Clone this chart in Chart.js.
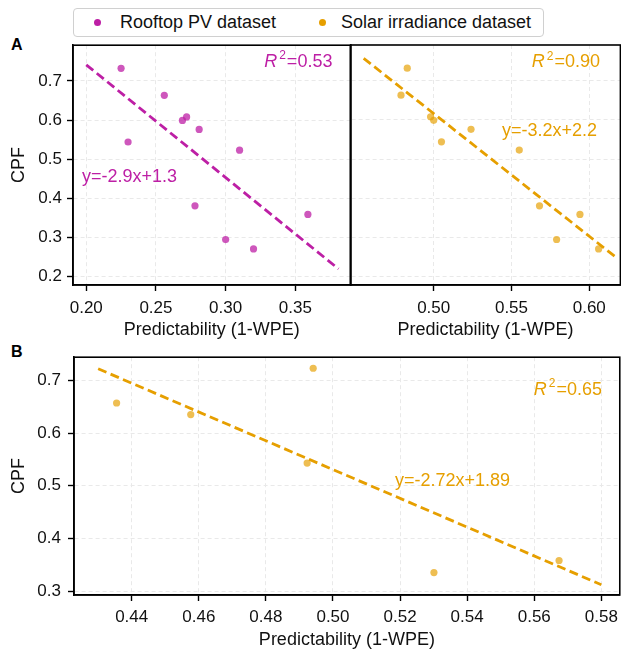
<!DOCTYPE html>
<html>
<head>
<meta charset="utf-8">
<script src="https://cdn.jsdelivr.net/npm/chart.js@4"></script>
<style>
  body { margin: 0; background: #fff; font-family: 'Liberation Sans', Arial, sans-serif; }
  #wrap { position: relative; width: 621px; height: 650px; overflow: hidden; }
  canvas { position: absolute; }
  .tag { position: absolute; font-weight: bold; font-size: 16px; color: #000; }
  #legend { position: absolute; left: 73px; top: 8px; width: 469px; height: 27px;
    border: 1px solid #d0d0d0; border-radius: 4px; font-size: 18px; color: #111; }
  .item { position: absolute; top: 3px; line-height: 21px; white-space: nowrap; }
  .dot { position: absolute; width: 7px; height: 7px; border-radius: 50%; top: 10px; }
</style>
</head>
<body>
<div id="wrap">
  <div id="legend">
    <div class="dot" style="left:20px;background:#bd1fa5"></div>
    <div class="item" style="left:46px">Rooftop PV dataset</div>
    <div class="dot" style="left:245px;background:#e69f00"></div>
    <div class="item" style="left:267px">Solar irradiance dataset</div>
  </div>
  <div class="tag" style="left:11px;top:36px">A</div>
  <div class="tag" style="left:11px;top:343px">B</div>
  <canvas id="chartA1" width="354" height="320" style="left:0;top:30px"></canvas>
  <canvas id="chartA2" width="277" height="320" style="left:347px;top:30px"></canvas>
  <canvas id="chartB" width="624" height="310" style="left:0;top:340px"></canvas>
</div>
<script>
// Panel A: CPF vs predictability (same CPF values for both datasets)
const cpfA = [0.732, 0.663, 0.608, 0.599, 0.576, 0.544, 0.523, 0.381, 0.359, 0.295, 0.271];
const rooftopX = [0.225, 0.256, 0.272, 0.269, 0.281, 0.230, 0.310, 0.278, 0.359, 0.300, 0.320];
const solarX = [0.483, 0.479, 0.498, 0.500, 0.524, 0.505, 0.555, 0.568, 0.594, 0.579, 0.606];

// regression line end points
const rooftopFitX = [0.200, 0.381];
const rooftopFitY = [0.741, 0.220];
const solarFitX = [0.455, 0.617];
const solarFitY = [0.757, 0.250];

// Panel B: solar irradiance only
const solarBX = [0.4355, 0.4576, 0.4941, 0.4923, 0.5301, 0.5674];
const cpfB = [0.657, 0.635, 0.723, 0.543, 0.335, 0.358];
const solarBFitX = [0.430, 0.580];
const solarBFitY = [0.722, 0.312];

// tick labels
const yTicksA = [0.2, 0.3, 0.4, 0.5, 0.6, 0.7];
const xTicksA1 = [0.20, 0.25, 0.30, 0.35];
const xTicksA2 = [0.50, 0.55, 0.60];
const yTicksB = [0.3, 0.4, 0.5, 0.6, 0.7];
const xTicksB = [0.44, 0.46, 0.48, 0.50, 0.52, 0.54, 0.56, 0.58];

const PURPLE = '#bd1fa5';
const ORANGE = '#e69f00';
const FONT = "'Liberation Sans', Arial, sans-serif";

const pts = (xs, ys) => xs.map((x, i) => ({ x: x, y: ys[i] }));

// box around the plot area
const frame = {
  id: 'frame',
  afterDraw(chart) {
    const a = chart.chartArea, ctx = chart.ctx;
    ctx.save();
    ctx.strokeStyle = '#000';
    ctx.lineWidth = 1.6;
    ctx.strokeRect(a.left, a.top, a.right - a.left, a.bottom - a.top);
    ctx.restore();
  }
};

// R^2 and equation text
const notes = {
  id: 'notes',
  afterDatasetsDraw(chart, args, opts) {
    const ctx = chart.ctx, xs = chart.scales.x, ys = chart.scales.y;
    const size = opts.size;
    ctx.save();
    ctx.fillStyle = opts.color;
    ctx.textBaseline = 'middle';
    (opts.items || []).forEach(n => {
      let px = xs.getPixelForValue(n.x);
      const py = ys.getPixelForValue(n.y);
      if (n.r2) {
        const f1 = 'italic ' + size + 'px ' + FONT, f2 = Math.round(size * 0.68) + 'px ' + FONT, f3 = size + 'px ' + FONT;
        ctx.font = f1; const w1 = ctx.measureText('R').width + 2;
        ctx.font = f2; const w2 = ctx.measureText('2').width + 1;
        ctx.font = f3; const w3 = ctx.measureText('=' + n.r2).width;
        px -= w1 + w2 + w3;
        ctx.textAlign = 'left';
        ctx.font = f1; ctx.fillText('R', px, py);
        ctx.font = f2; ctx.fillText('2', px + w1, py - size / 3);
        ctx.font = f3; ctx.fillText('=' + n.r2, px + w1 + w2, py);
      } else {
        ctx.font = size + 'px ' + FONT;
        ctx.textAlign = 'left';
        ctx.fillText(n.text, px, py);
      }
    });
    ctx.restore();
  }
};

function scatterSet(data, color) {
  return {
    type: 'scatter', data: data,
    backgroundColor: color === PURPLE ? 'rgba(189,31,165,0.75)' : 'rgba(230,159,0,0.68)',
    borderWidth: 0, pointRadius: 3.6, pointHoverRadius: 3.6
  };
}

function fitSet(data, color) {
  return {
    type: 'line', data: data, borderColor: color, borderWidth: 2.8,
    borderDash: [9, 4.5], pointRadius: 0, fill: false, showLine: true
  };
}

function axis(opts) {
  return {
    type: 'linear', min: opts.min, max: opts.max,
    afterBuildTicks: s => { s.ticks = opts.ticks.map(v => ({ value: v })); },
    afterFit: s => { if (s.isHorizontal()) s.height = opts.size; else s.width = opts.size; },
    grid: { color: '#e9e9e9', lineWidth: 1, tickColor: '#000', tickWidth: 1.4, tickLength: 6,
            drawTicks: opts.drawTicks !== false },
    border: { display: true, color: '#000', width: 1.6, dash: [4, 3] },
    ticks: {
      display: opts.showTicks !== false,
      padding: opts.pad, color: '#111',
      font: { family: FONT, size: 17 },
      callback: v => v.toFixed(opts.dec)
    },
    title: { display: !!opts.title, text: opts.title, color: '#111',
             font: { family: FONT, size: 18 }, padding: opts.titlePad || 0 }
  };
}

function makeChart(id, datasets, x, y, padding, noteOpts) {
  return new Chart(document.getElementById(id), {
    data: { datasets: datasets },
    plugins: [frame, notes],
    options: {
      responsive: false, animation: false,
      layout: { padding: padding },
      plugins: { legend: { display: false }, tooltip: { enabled: false }, notes: noteOpts },
      scales: { x: axis(x), y: axis(y) }
    }
  });
}

makeChart('chartA1',
  [fitSet(pts(rooftopFitX, rooftopFitY), PURPLE), scatterSet(pts(rooftopX, cpfA), PURPLE)],
  { min: 0.1905, max: 0.3895, ticks: xTicksA1, dec: 2, size: 65, pad: 7,
    title: 'Predictability (1-WPE)', titlePad: { top: 0, bottom: 9 } },
  { min: 0.179, max: 0.791, ticks: yTicksA, dec: 1, size: 73, pad: 5,
    title: 'CPF', titlePad: { top: 8, bottom: 0 } },
  { top: 15, right: 0, left: 0, bottom: 0 },
  { color: PURPLE, size: 18, items: [ { x: 0.3766, y: 0.748, r2: '0.53' }, { x: 0.197, y: 0.454, text: 'y=-2.9x+1.3' } ] }
);

makeChart('chartA2',
  [fitSet(pts(solarFitX, solarFitY), ORANGE), scatterSet(pts(solarX, cpfA), ORANGE)],
  { min: 0.4466, max: 0.6200, ticks: xTicksA2, dec: 2, size: 65, pad: 7,
    title: 'Predictability (1-WPE)', titlePad: { top: 0, bottom: 9 } },
  { min: 0.179, max: 0.791, ticks: yTicksA, dec: 1, size: 0.4, showTicks: false, drawTicks: false },
  { top: 15, right: 0, left: 0, bottom: 0 },
  { color: ORANGE, size: 18, items: [ { x: 0.6069, y: 0.747, r2: '0.90' }, { x: 0.5439, y: 0.5725, text: 'y=-3.2x+2.2' } ] }
);

makeChart('chartB',
  [fitSet(pts(solarBFitX, solarBFitY), ORANGE), scatterSet(pts(solarBX, cpfB), ORANGE)],
  { min: 0.4228, max: 0.5855, ticks: xTicksB, dec: 2, size: 55, pad: 6,
    title: 'Predictability (1-WPE)', titlePad: { top: 0, bottom: -1 } },
  { min: 0.2925, max: 0.744, ticks: yTicksB, dec: 1, size: 74, pad: 7,
    title: 'CPF', titlePad: { top: 8, bottom: 0 } },
  { top: 16, right: 0, left: 0, bottom: 0 },
  { color: ORANGE, size: 18, items: [ { x: 0.5802, y: 0.6825, r2: '0.65' }, { x: 0.5185, y: 0.5094, text: 'y=-2.72x+1.89' } ] }
);
</script>
</body>
</html>
